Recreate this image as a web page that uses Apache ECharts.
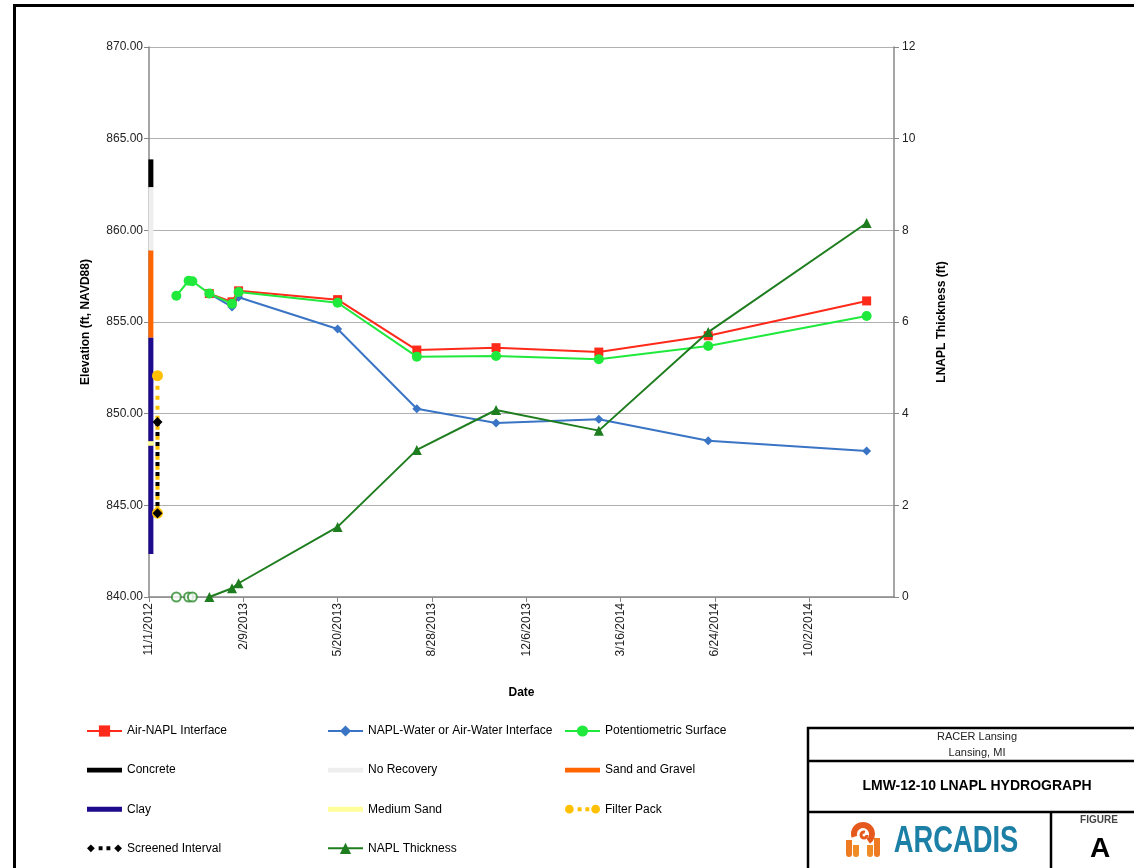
<!DOCTYPE html>
<html><head><meta charset="utf-8">
<script src="https://cdn.jsdelivr.net/npm/echarts@6/dist/echarts.min.js"></script>
<style>html,body{margin:0;padding:0;background:#fff}#c{width:1134px;height:868px}</style>
</head><body><div id="c"></div>
<script>
// ---------- data ----------
const axisStart = '11/1/2012';
const axisEnd = '12/31/2014';
const sampleDates = ['11/30/2012','12/13/2012','12/17/2012','1/4/2013','1/28/2013','2/4/2013','5/20/2013','8/12/2013','11/4/2013','2/21/2014','6/17/2014','12/2/2014'];
const airNapl        = [null, null, null, 856.55, 856.10, 856.70, 856.22, 853.47, 853.60, 853.36, 854.25, 856.15];
const naplWater      = [null, null, null, 856.55, 855.82, 856.35, 854.62, 850.27, 849.49, 849.69, 848.52, 847.96];
const potentiometric = [856.43, 857.25, 857.22, 856.55, 856.00, 856.64, 856.05, 853.11, 853.15, 852.97, 853.69, 855.33];
const naplThickness  = [null, null, null, 0, 0.19, 0.30, 1.53, 3.21, 4.08, 3.63, 5.78, 8.16];
const notDetected    = [0, 0, 0, null, null, null, null, null, null, null, null, null];

// boring log column
const columnDate = '11/3/2012';
const stratNames  = ['Concrete', 'No Recovery', 'Sand and Gravel', 'Clay', 'Medium Sand'];
const stratTop    = [863.87, 862.35, 858.90, 854.14, 848.50];
const stratBottom = [862.35, 858.90, 854.14, 842.35, 848.25];
const wellDate = '11/10/2012';
const filterPack = [852.07, 844.57];
const screenedInterval = [849.55, 844.57];

// ---------- helpers ----------
function parseMDY(s){ const [m,d,y] = s.split('/').map(Number); return Date.UTC(y, m-1, d); }
const t0 = parseMDY(axisStart);
function dayOf(s){ return Math.round((parseMDY(s) - t0) / 864e5); }
function fmtDay(v){ const d = new Date(t0 + v*864e5); return (d.getUTCMonth()+1) + '/' + d.getUTCDate() + '/' + d.getUTCFullYear(); }
function pts(vals){ return sampleDates.map((d,i)=> vals[i]==null ? null : [dayOf(d), vals[i]]).filter(Boolean); }

const FONT = 'Liberation Sans, Arial, sans-serif';
const stratColors = ['#000000', '#EEEEEE', '#FF6600', '#1E0A8C', '#FFFF99'];

const series = [];
stratNames.forEach((n,i)=>{
  series.push({
    name: n, type: 'line', yAxisIndex: 0, symbol: 'none', clip: false, z: 3,
    lineStyle: {color: stratColors[i], width: i === 4 ? 6 : 5, cap: 'butt'},
    itemStyle: {color: stratColors[i]},
    data: [[dayOf(columnDate), stratTop[i]], [dayOf(columnDate), stratBottom[i]]]
  });
});
series.push({
  name: 'Filter Pack', type: 'line', yAxisIndex: 0, symbol: 'circle', symbolSize: 11, clip: false, z: 4,
  lineStyle: {color: '#FFC000', width: 4, type: [4, 6], cap: 'butt'},
  itemStyle: {color: '#FFC000'},
  data: filterPack.map(v => [dayOf(wellDate), v])
});
series.push({
  name: 'Screened Interval', type: 'line', yAxisIndex: 0, symbol: 'diamond', symbolSize: 10, clip: false, z: 5,
  lineStyle: {color: '#000000', width: 4, type: [4, 6], cap: 'butt'},
  itemStyle: {color: '#000000'},
  data: screenedInterval.map(v => [dayOf(wellDate), v])
});
series.push({
  name: 'NAPL-Water or Air-Water Interface', type: 'line', yAxisIndex: 0, symbol: 'diamond', symbolSize: 9, z: 6,
  lineStyle: {color: '#3A74C4', width: 2}, itemStyle: {color: '#3A74C4'},
  data: pts(naplWater)
});
series.push({
  name: 'Air-NAPL Interface', type: 'line', yAxisIndex: 0, symbol: 'rect', symbolSize: 9, z: 7,
  lineStyle: {color: '#FF2A1A', width: 2}, itemStyle: {color: '#FF2A1A'},
  data: pts(airNapl)
});
series.push({
  name: 'Potentiometric Surface', type: 'line', yAxisIndex: 0, symbol: 'circle', symbolSize: 10, z: 8,
  lineStyle: {color: '#1FEA3C', width: 2}, itemStyle: {color: '#1FEA3C'},
  data: pts(potentiometric)
});
series.push({
  name: 'NAPL Thickness', type: 'line', yAxisIndex: 1, symbol: 'triangle', symbolSize: 10, z: 9,
  lineStyle: {color: '#1E7D1E', width: 2}, itemStyle: {color: '#1E7D1E'},
  data: pts(naplThickness)
});
series.push({
  name: 'Not Detected', type: 'scatter', yAxisIndex: 1, symbol: 'emptyCircle', symbolSize: 9, z: 9, clip: false,
  itemStyle: {color: '#2E8B2E', borderColor: '#2E8B2E', borderWidth: 1.2},
  data: pts(notDetected)
});

// legend icons
const barIcon = 'path://M0,0h36v5h-36z';
const filterIcon = 'path://M0,5a4.5,4.5 0 1,0 9,0a4.5,4.5 0 1,0 -9,0z M13,3h4v4h-4z M21,3h4v4h-4z M27,5a4.5,4.5 0 1,0 9,0a4.5,4.5 0 1,0 -9,0z';
const screenIcon = 'path://M0,5L4,1L8,5L4,9z M12,3h4v4h-4z M20,3h4v4h-4z M28,5L32,1L36,5L32,9z';
const lineItem = n => ({name: n});
const iconItem = (n, ic) => ({name: n, icon: ic});

const legendCommon = {
  orient: 'vertical', itemWidth: 35, itemHeight: 14, itemGap: 27.1,
  textStyle: {fontFamily: FONT, fontSize: 12, color: '#000'}, top: 725, padding: 0
};

const chart = echarts.init(document.getElementById('c'), null, {renderer: 'canvas'});
chart.setOption({
  animation: false,
  backgroundColor: '#fff',
  grid: {left: 149, right: 240, top: 47, bottom: 271, containLabel: false, outerBoundsMode: 'none'},
  legend: [
    Object.assign({}, legendCommon, {left: 86, data: [lineItem('Air-NAPL Interface'), iconItem('Concrete', barIcon), iconItem('Clay', barIcon), iconItem('Screened Interval', screenIcon)]}),
    Object.assign({}, legendCommon, {left: 327, data: [lineItem('NAPL-Water or Air-Water Interface'), iconItem('No Recovery', barIcon), iconItem('Medium Sand', barIcon), lineItem('NAPL Thickness')]}),
    Object.assign({}, legendCommon, {left: 564, data: [lineItem('Potentiometric Surface'), iconItem('Sand and Gravel', barIcon), iconItem('Filter Pack', filterIcon)]})
  ],
  xAxis: {
    type: 'value', min: 0, max: dayOf(axisEnd), interval: 100,
    name: 'Date', nameLocation: 'middle', nameGap: 90,
    nameTextStyle: {fontFamily: FONT, fontSize: 12, fontWeight: 'bold', color: '#000'},
    axisLine: {show: true, lineStyle: {color: '#888', width: 1.5}},
    axisTick: {show: true, length: 5, lineStyle: {color: '#888'}},
    splitLine: {show: false},
    axisLabel: {rotate: 90, margin: 6, showMaxLabel: false, fontFamily: FONT, fontSize: 12, color: '#222',
      formatter: v => (v % 100 === 0 ? fmtDay(v) : '')}
  },
  yAxis: [
    {
      type: 'value', min: 840, max: 870, interval: 5, position: 'left',
      name: 'Elevation (ft, NAVD88)', nameLocation: 'middle', nameGap: 57, nameRotate: 90,
      nameTextStyle: {fontFamily: FONT, fontSize: 12, fontWeight: 'bold', color: '#000'},
      axisLine: {show: true, lineStyle: {color: '#888', width: 1.5}},
      axisTick: {show: true, length: 5, lineStyle: {color: '#888'}},
      splitLine: {show: true, lineStyle: {color: '#b0b0b0', width: 1.2}},
      axisLabel: {margin: 6, fontFamily: FONT, fontSize: 12, color: '#222', formatter: v => v.toFixed(2)}
    },
    {
      type: 'value', min: 0, max: 12, interval: 2, position: 'right',
      name: 'LNAPL Thickness (ft)', nameLocation: 'middle', nameGap: 42, nameRotate: 90,
      nameTextStyle: {fontFamily: FONT, fontSize: 12, fontWeight: 'bold', color: '#000'},
      axisLine: {show: true, lineStyle: {color: '#888', width: 1.5}},
      axisTick: {show: true, length: 5, lineStyle: {color: '#888'}},
      splitLine: {show: false},
      axisLabel: {margin: 8, fontFamily: FONT, fontSize: 12, color: '#222'}
    }
  ],
  series: series,
  graphic: [
    // page frame
    {type: 'line', shape: {x1: 13, y1: 5.5, x2: 1134, y2: 5.5}, style: {stroke: '#000', lineWidth: 3}, z: 100},
    {type: 'line', shape: {x1: 14.5, y1: 4, x2: 14.5, y2: 868}, style: {stroke: '#000', lineWidth: 3}, z: 100},
    // title block
    {type: 'rect', shape: {x: 808, y: 728, width: 340, height: 150}, style: {fill: '#fff', stroke: '#000', lineWidth: 2.5}, z: 100},
    {type: 'line', shape: {x1: 808, y1: 761, x2: 1134, y2: 761}, style: {stroke: '#000', lineWidth: 2.5}, z: 101},
    {type: 'line', shape: {x1: 808, y1: 812, x2: 1134, y2: 812}, style: {stroke: '#000', lineWidth: 2.5}, z: 101},
    {type: 'line', shape: {x1: 1051, y1: 812, x2: 1051, y2: 868}, style: {stroke: '#000', lineWidth: 2.5}, z: 101},
    {type: 'text', x: 977, y: 737, z: 102, style: {text: 'RACER Lansing', fill: '#222', font: '11px ' + FONT, align: 'center', verticalAlign: 'middle'}},
    {type: 'text', x: 977, y: 753, z: 102, style: {text: 'Lansing, MI', fill: '#222', font: '11px ' + FONT, align: 'center', verticalAlign: 'middle'}},
    {type: 'text', x: 977, y: 786, z: 102, style: {text: 'LMW-12-10 LNAPL HYDROGRAPH', fill: '#000', font: 'bold 14px ' + FONT, align: 'center', verticalAlign: 'middle'}},
    {type: 'text', x: 1099, y: 820, z: 102, style: {text: 'FIGURE', fill: '#444', font: 'bold 10px ' + FONT, align: 'center', verticalAlign: 'middle'}},
    {type: 'text', x: 1100, y: 849, z: 102, style: {text: 'A', fill: '#000', font: 'bold 28px ' + FONT, align: 'center', verticalAlign: 'middle'}},
    {type: 'text', x: 956, y: 842, scaleX: 0.74, z: 102, style: {text: 'ARCADIS', fill: '#1C7FA6', font: 'bold 37px "Liberation Sans", Arial, sans-serif', align: 'center', verticalAlign: 'middle'}},
    // logo (approximation)
    {type: 'arc', shape: {cx: 863, cy: 834, r: 9, startAngle: Math.PI * 0.9, endAngle: Math.PI * 2.3, clockwise: true}, style: {stroke: '#E55A1C', lineWidth: 6, fill: 'none'}, z: 102},
    {type: 'arc', shape: {cx: 864, cy: 835, r: 3, startAngle: 0, endAngle: Math.PI * 1.6, clockwise: true}, style: {stroke: '#E55A1C', lineWidth: 3, fill: 'none'}, z: 102},
    {type: 'rect', shape: {x: 846, y: 840, width: 6, height: 17, r: [0, 0, 3, 3]}, style: {fill: '#EE7A22'}, z: 102},
    {type: 'rect', shape: {x: 853, y: 845, width: 6, height: 12, r: [0, 0, 3, 3]}, style: {fill: '#F08C26'}, z: 102},
    {type: 'rect', shape: {x: 867, y: 845, width: 6, height: 12, r: [0, 0, 3, 3]}, style: {fill: '#F08C26'}, z: 102},
    {type: 'rect', shape: {x: 874, y: 838, width: 6, height: 19, r: [0, 0, 3, 3]}, style: {fill: '#EE7A22'}, z: 102}
  ]
});
</script>
</body></html>
